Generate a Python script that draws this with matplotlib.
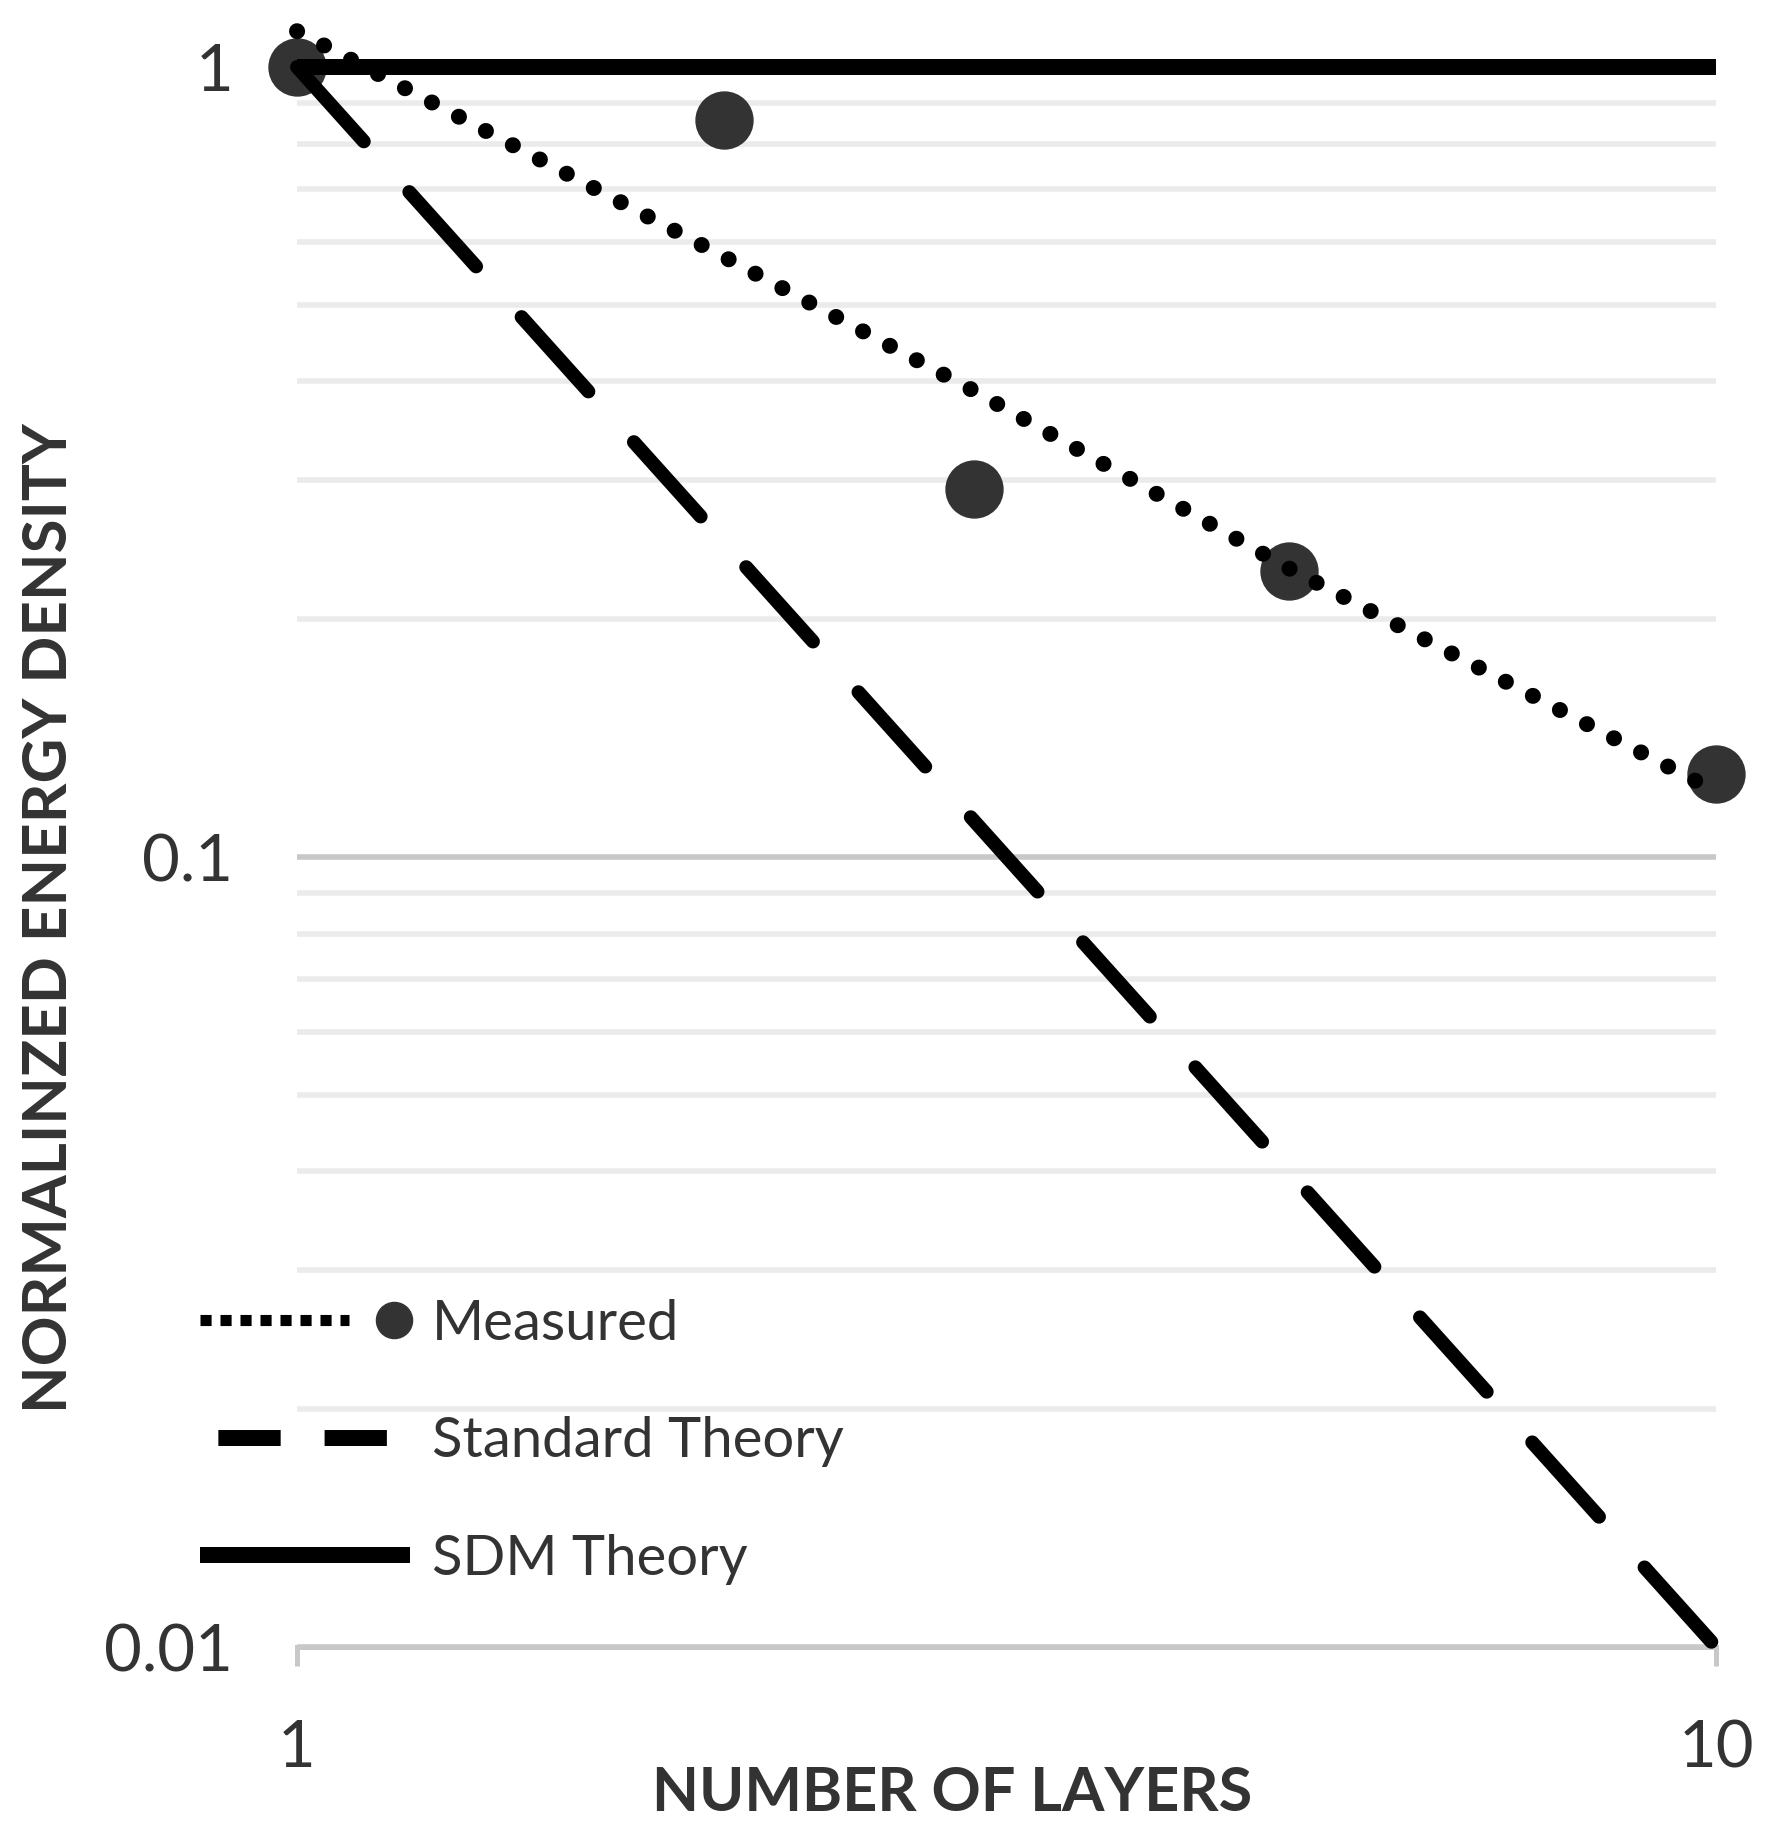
import matplotlib
matplotlib.use('Agg')
import matplotlib.pyplot as plt
from matplotlib.lines import Line2D
from matplotlib.ticker import LogLocator, FixedLocator, FixedFormatter, NullFormatter

# measured points
layers = [1, 2, 3, 5, 10]
measured = [1.0, 0.856, 0.292, 0.230, 0.1275]

trend_x = [1, 2, 3, 5, 10]
trend_y = [1.11, 0.575, 0.389, 0.232, 0.121]

# theory lines
theory_x = [1, 10]
standard = [1, 0.01]
sdm = [1, 1]

yticks = [0.01, 0.1, 1]
ytick_labels = ['0.01', '0.1', '1']
xticks = [1, 10]
xtick_labels = ['1', '10']

TXT = '#333333'
plt.rcParams['font.family'] = ['Lato', 'DejaVu Sans']

fig = plt.figure(figsize=(17.73, 18.36), dpi=100)
ax = fig.add_axes([297/1773, 1-1647/1836, (1716-297)/1773, (1647-67)/1836])

ax.set_xscale('log')
ax.set_yscale('log')
ax.set_xlim(1, 10)
ax.set_ylim(0.01, 1)

# gridlines
ax.yaxis.set_major_locator(FixedLocator(yticks))
ax.yaxis.set_major_formatter(FixedFormatter(ytick_labels))
ax.yaxis.set_minor_locator(LogLocator(base=10, subs=range(2, 10)))
ax.yaxis.set_minor_formatter(NullFormatter())
ax.grid(True, axis='y', which='major', color='#C8C8C8', lw=4, zorder=0)
ax.grid(True, axis='y', which='minor', color='#EBEBEB', lw=4, zorder=0)
ax.set_axisbelow(True)

ax.xaxis.set_major_locator(FixedLocator(xticks))
ax.xaxis.set_major_formatter(FixedFormatter(xtick_labels))
ax.xaxis.set_minor_locator(FixedLocator([]))

for s in ['top', 'right', 'left']:
    ax.spines[s].set_visible(False)
ax.spines['bottom'].set_color('#C8C8C8')
ax.spines['bottom'].set_linewidth(3.6)

ax.tick_params(axis='x', which='major', length=14, width=3.6, color='#C8C8C8',
               labelsize=47, labelcolor=TXT, pad=38)
ax.tick_params(axis='y', which='both', length=0, labelsize=47, labelcolor=TXT, pad=46)

# data
ax.plot(layers, measured, 'o', ms=41, color='#333333', zorder=2, clip_on=False)
ax.plot(trend_x, trend_y, color='black', lw=11.5, dashes=(0.01, 1.9),
        dash_capstyle='round', zorder=3, clip_on=False)
ax.plot(theory_x, standard, color='black', lw=10, dashes=(7.2, 4.9),
        dash_capstyle='round', zorder=3, clip_on=False)
ax.plot(theory_x, sdm, color='black', lw=11.5, solid_capstyle='butt', zorder=3, clip_on=False)

# axis titles
fig.text(952/1773, 1-1793/1836, 'NUMBER OF LAYERS', fontsize=44, fontweight='bold',
         color=TXT, ha='center', va='center')
fig.text(49/1773, 1-918/1836, 'NORMALINZED ENERGY DENSITY', fontsize=44.5, fontweight='bold',
         color=TXT, ha='center', va='center', rotation=90)


# legend
class MeasuredHandler:
    def legend_artist(self, legend, orig_handle, fontsize, handlebox):
        x0, y0 = handlebox.xdescent, handlebox.ydescent
        w, h = handlebox.width, handlebox.height
        line = Line2D([x0, x0 + 0.71 * w], [y0 + h / 2] * 2, color='black', lw=8,
                      dashes=(1, 0.8), dash_capstyle='butt')
        dot = Line2D([x0 + 0.92 * w], [y0 + h / 2], marker='o', ms=26, color='#333333', ls='none')
        handlebox.add_artist(line)
        handlebox.add_artist(dot)
        return line


h_meas = Line2D([], [], color='black')
h_std = Line2D([], [], color='black', lw=11.5, linestyle=(5.5, (3.9, 2.75)), dash_capstyle='butt')
h_sdm = Line2D([], [], color='black', lw=11.5, solid_capstyle='butt')

leg = fig.legend([h_meas, h_std, h_sdm], ['Measured', 'Standard Theory', 'SDM Theory'],
                 handler_map={h_meas: MeasuredHandler()},
                 loc='upper left', bbox_to_anchor=(200/1773, 1-1299/1836),
                 frameon=False, fontsize=40.5, handlelength=3.74, handletextpad=0.38,
                 labelspacing=1.18, borderpad=0, borderaxespad=0)
for t in leg.get_texts():
    t.set_color(TXT)

fig.savefig('out.png', dpi=100, facecolor='white')
